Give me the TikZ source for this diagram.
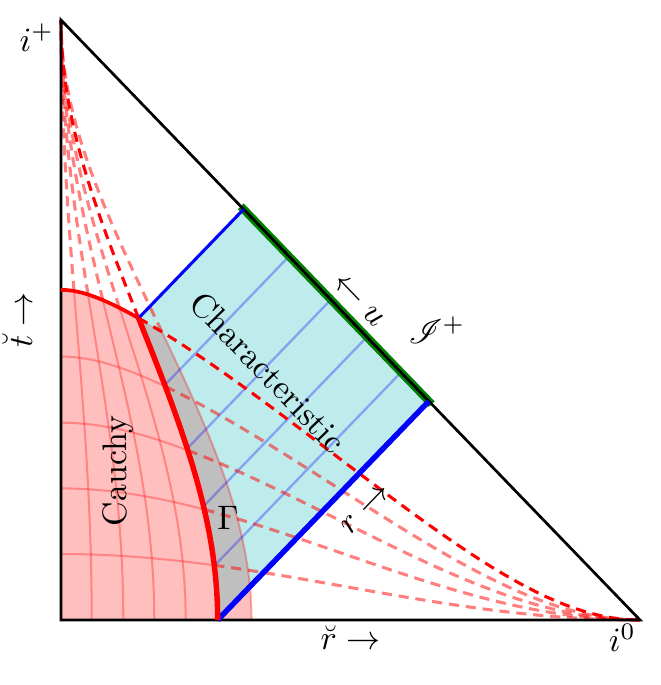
\documentclass[tikz,border=0pt]{standalone}
\usepackage{amsmath}
\usepackage{mathrsfs}
\usetikzlibrary{calc}

\definecolor{charcyan}{RGB}{190,236,236}
\newcommand{\rin}{0.4527}
\newcommand{\rout}{0.5686}
\newcommand{\tcau}{1.1717}

\tikzset{
  declare function={
    PX(\tv,\rv)=3.2167*(atan(\tv+\rv)-atan(\tv-\rv));
    PY(\tv,\rv)=3.3333*(atan(\tv+\rv)+atan(\tv-\rv));
    hh(\lv,\rv)=0.115*\lv*\lv*\rv*\rv/(0.3+\rv*\rv);
    TX(\lv,\rv)=PX(\lv-hh(\lv,\rv),\rv);
    TY(\lv,\rv)=PY(\lv-hh(\lv,\rv),\rv);
  }
}

\begin{document}
\begin{tikzpicture}[x=0.01034cm, y=0.01034cm,
  edge/.style={line width=0.8pt},
  gridline/.style={red, opacity=0.3, line width=0.6pt},
  faintdash/.style={red, opacity=0.5, line width=0.9pt, dash pattern=on 3pt off 2pt},
  fulldash/.style={red, line width=0.9pt, dash pattern=on 3pt off 2pt},
  nullray/.style={blue, opacity=0.3, line width=0.7pt}]

	\useasboundingbox (-61,-65) rectangle (600,620);
	\pgfmathsetmacro{\tcorner}{\tcau-hh(\tcau,\rin)}
	\pgfmathsetmacro{\tgap}{\tcau-hh(\tcau,\rout)}
	\pgfmathsetmacro{\srin}{atan(\rin)}
	\pgfmathsetmacro{\utop}{atan(\tcorner-\rin)}

	\coordinate (O) at (0,0);
	\coordinate (ip) at (0,600);
	\coordinate (io) at (579,0);
	\coordinate (B) at ({PX(0,\rin)},0);
	\coordinate (C) at ({PX(\tcorner,\rin)},{PY(\tcorner,\rin)});
	\coordinate (S1) at ({3.2167*(90-\utop)},{3.3333*(90+\utop)});
	\coordinate (S2) at ({3.2167*(90+\srin)},{3.3333*(90-\srin)});

	% cauchy part + buffer
	\fill[red!25] (O) -- plot[domain=0:\rout, samples=25, variable=\xs] ({TX(\tcau,\xs)},{TY(\tcau,\xs)})
		-- plot[domain=\tgap:0, samples=25, variable=\xs] ({PX(\xs,\rout)},{PY(\xs,\rout)}) -- cycle;
	\fill[charcyan] (B) -- plot[domain=0:\tcorner, samples=25, variable=\xs] ({PX(\xs,\rin)},{PY(\xs,\rin)}) -- (S1) -- (S2) -- cycle;
	\begin{scope}
		\clip (B) -- plot[domain=0:\tcorner, samples=25, variable=\xs] ({PX(\xs,\rin)},{PY(\xs,\rin)}) -- (S1) -- (S2) -- cycle;
		\fill[gray!50] (B) -- plot[domain=0:\tcorner, samples=25, variable=\xs] ({PX(\xs,\rin)},{PY(\xs,\rin)})
			-- plot[domain=\rin:\rout, samples=10, variable=\xs] ({TX(\tcau,\xs)},{TY(\tcau,\xs)})
			-- plot[domain=\tgap:0, samples=25, variable=\xs] ({PX(\xs,\rout)},{PY(\xs,\rout)}) -- cycle;
	\end{scope}

	% grid
	\foreach \rr in {0.0835,0.1707,0.2587,0.3519,\rout}{
		\pgfmathsetmacro{\ttop}{\tcau-hh(\tcau,\rr)}
		\draw[gridline] plot[domain=0:\ttop, samples=20, variable=\xs] ({PX(\xs,\rr)},{PY(\xs,\rr)});
	}
	\foreach \lev in {0.1745,0.3588,0.5680,0.8247}
		\draw[gridline] plot[domain=0:\rin, samples=20, variable=\xs] ({TX(\lev,\xs)},{TY(\lev,\xs)});

	\foreach \uu in {19.1,6.1,-5.1,-15.7}{
		\pgfmathsetmacro{\ustart}{tan(\uu)+\rin}
		\draw[nullray] ({PX(\ustart,\rin)},{PY(\ustart,\rin)}) -- ({3.2167*(90-\uu)},{3.3333*(90+\uu)});
	}

	\foreach \lev in {0.1745,0.3588,0.5680,0.8247}
		\draw[faintdash] plot[domain=\srin:89.5, samples=50, variable=\xs] ({TX(\lev,tan(\xs))},{TY(\lev,tan(\xs))}) -- (io);
	\foreach \rr in {0.0835,0.1707,0.2587,0.3519,\rout}{
		\pgfmathsetmacro{\ttop}{\tcau-hh(\tcau,\rr)}
		\draw[faintdash] plot[domain=0:89.5, samples=50, variable=\xs] ({PX(\ttop+tan(\xs),\rr)},{PY(\ttop+tan(\xs),\rr)}) -- (ip);
	}
	\draw[fulldash] plot[domain=\srin:89.5, samples=50, variable=\xs] ({TX(\tcau,tan(\xs))},{TY(\tcau,tan(\xs))}) -- (io);
	\draw[fulldash] plot[domain=0:89.5, samples=50, variable=\xs] ({PX(\tcorner+tan(\xs),\rin)},{PY(\tcorner+tan(\xs),\rin)}) -- (ip);

	\draw[green!50!black, line width=2.4pt, line cap=rect] (S1) -- (S2);
	\draw[edge] (O) -- (io) -- (ip) -- cycle;
	\draw[blue, line width=0.9pt] (C) -- (S1);
	\draw[blue, line width=1.6pt] (B) -- (S2);
	\draw[red, line width=1.1pt] plot[domain=0:\rin, samples=25, variable=\xs] ({TX(\tcau,\xs)},{TY(\tcau,\xs)});
	\draw[red, line width=1.6pt] plot[domain=0:\tcorner, samples=25, variable=\xs] ({PX(\xs,\rin)},{PY(\xs,\rin)});

	\node[anchor=north east, inner sep=1pt] (iplus) at ($(ip)+(-3,0)$) {$i^+$};
	\node[anchor=north east, inner sep=1pt] (izero) at (io) {$i^0$};
	\path (O) -- (io) node[midway, below, inner sep=1.5pt] (rbreve) {$\breve{r}\rightarrow$};
	\path (O) -- (ip) node[midway, above=5pt, sloped] (tbreve) {$\breve{t}\rightarrow$};
	\path (ip) -- (io) node[pos=0.49, above, sloped] (ulabel) {$\leftarrow u$};
	\path (B) -- (S2) node[pos=0.6, below=3pt, sloped] (rlabel) {$r\rightarrow$};
	\node (scri) at (376,290) {$\mathscr{I}^+$};
	\node[rotate=-46] (charlabel) at (207,248) {Characteristic};
	\node[rotate=90] (cauchylabel) at (57,149) {Cauchy};
	\node (gammalabel) at (167,102) {$\Gamma$};

\end{tikzpicture}
\end{document}
